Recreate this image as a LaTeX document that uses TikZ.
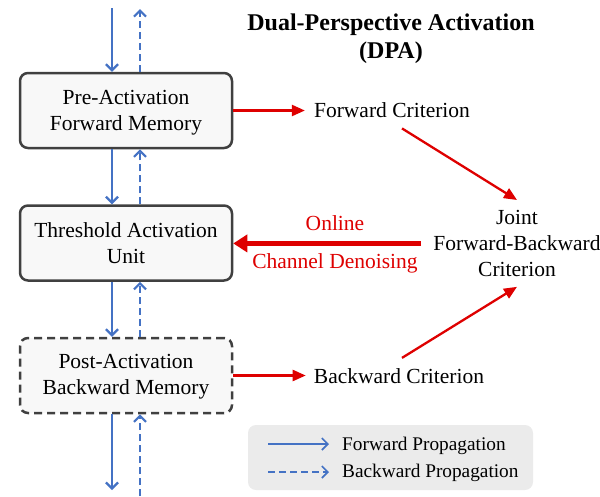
\documentclass[tikz,border=0pt]{standalone}
\usepackage{fontspec}
\setmainfont{Liberation Serif}
\usetikzlibrary{arrows.meta}
\definecolor{fwdblue}{RGB}{68,114,196}
\definecolor{critred}{RGB}{222,0,0}
\definecolor{boxline}{RGB}{64,64,64}
\definecolor{boxfill}{RGB}{248,248,248}
\definecolor{legfill}{RGB}{235,235,235}
\begin{document}
\begin{tikzpicture}[x=1pt,y=-1pt,
  mainfont/.style={font=\fontsize{21.5}{26}\selectfont},
  membox/.style={draw=boxline, line width=2.5pt, fill=boxfill, rounded corners=8pt,
    minimum width=212pt, minimum height=75pt, align=center, inner sep=0pt, mainfont},
  postbox/.style={membox, dash pattern=on 8pt off 5pt},
  plaintext/.style={inner sep=0pt, mainfont, align=center},
  redtext/.style={plaintext, text=critred},
  legtext/.style={inner sep=0pt, font=\fontsize{19.3}{23}\selectfont},
  fwdarrow/.style={draw=fwdblue, line width=2.2pt, -{Straight Barb[length=6pt,width=12pt]}},
  bwdarrow/.style={fwdarrow, dash pattern=on 7pt off 4pt},
  critarrow/.style={draw=critred, line width=2.3pt, -{Triangle[length=13pt,width=11pt]}},
  denoisearrow/.style={draw=critred, line width=5pt, -{Triangle[length=14pt,width=17pt]}}
]
\useasboundingbox (0,0) rectangle (600,496);

% title
\node[inner sep=0pt, anchor=north, align=center, font=\bfseries\fontsize{24}{28}\selectfont] (title) at (391,14)
  {Dual-Perspective Activation\\(DPA)};

% memory boxes
\node[membox] (b1) at (126,110.5) {\rule{0pt}{19pt}Pre-Activation\\Forward Memory};
\node[membox] (b2) at (126,243) {\rule{0pt}{16pt}Threshold Activation\\Unit};
\node[postbox] (b3) at (126,375.5) {\rule{0pt}{16pt}Post-Activation\\Backward Memory};

% criteria
\node[plaintext, anchor=base] (fc) at (392,117) {Forward Criterion};
\node[plaintext, anchor=base] (bc) at (399,383) {Backward Criterion};
\node[plaintext, anchor=north] (joint) at (517,210) {Joint\\Forward-Backward\\Criterion};

\node[redtext] (online) at (335,223) {Online};
\node[redtext] (denoise) at (335,263) {Channel Denoising};

% free ends of the propagation arrows
\coordinate (topin) at (112,8);
\coordinate (topout) at (140,9);
\coordinate (botout) at (112,490);
\coordinate (botin) at (140,496);

% forward (solid) propagation
\draw[fwdarrow] (topin) -- (topin |- b1.north);
\draw[fwdarrow] (b1.south -| topin) -- (b2.north -| topin);
\draw[fwdarrow] (b2.south -| topin) -- (b3.north -| topin);
\draw[fwdarrow] (b3.south -| botout) -- (botout);

% backward (dashed) propagation
\draw[bwdarrow] (topout |- b1.north) -- (topout);
\draw[bwdarrow] (b2.north -| topout) -- (b1.south -| topout);
\draw[bwdarrow] (b3.north -| topout) -- (b2.south -| topout);
\draw[bwdarrow] (botin) -- (b3.south -| botin);

% criterion arrows
\draw[critarrow, shorten >=9pt] (b1.east) -- (b1.east -| fc.west);
\draw[critarrow, shorten >=8pt] (b3.east) -- (b3.east -| bc.west);
\draw[critarrow] ([xshift=10pt,yshift=-11pt]fc.south) -- ([yshift=10pt]joint.north);
\draw[critarrow] ([xshift=3pt,yshift=10pt]bc.north) -- ([yshift=-10pt]joint.south);
\draw[denoisearrow, shorten <=12pt] (joint.west) -- (joint.west -| b2.east);

% legend
\node[fill=legfill, rounded corners=8pt, minimum width=285pt, minimum height=65pt, inner sep=0pt] (legend) at (390.5,457.5) {};
\node[legtext, anchor=base west] (lfwd) at (342,450) {Forward Propagation};
\node[legtext, anchor=base west] (lbwd) at (342,477) {Backward Propagation};
\coordinate (lfs) at (268,444);
\coordinate (lbs) at (268,472);
\draw[fwdarrow, line width=1.6pt] (lfs) -- (lfs -| lfwd.west) [shorten >=13pt];
\draw[bwdarrow, line width=1.6pt] (lbs) -- (lbs -| lbwd.west) [shorten >=13pt];
\end{tikzpicture}
\end{document}
